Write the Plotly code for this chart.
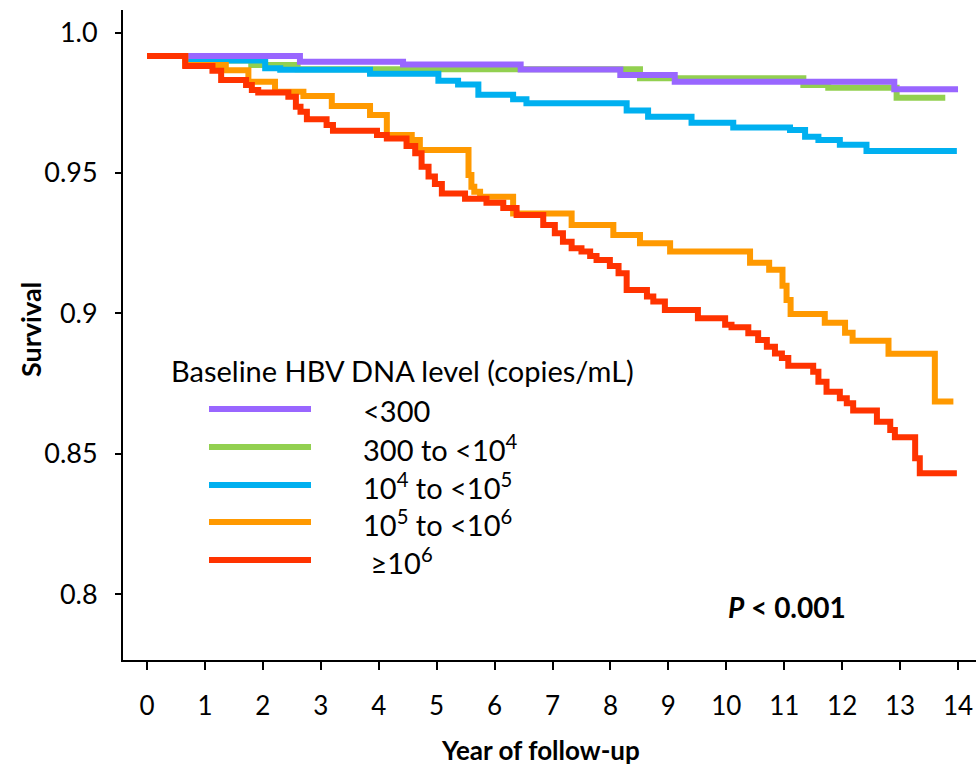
import plotly.graph_objects as go

# ---- data ----
groups = ["<300", "300 to <10^4", "10^4 to <10^5", "10^5 to <10^6", ">=10^6"]
legend_labels = ["&lt;300", "300 to &lt;10<sup>4</sup>", "10<sup>4</sup> to &lt;10<sup>5</sup>",
                 "10<sup>5</sup> to &lt;10<sup>6</sup>", " ≥10<sup>6</sup>"]
colors = ["#9966FF", "#92D050", "#00B0F0", "#FF9900", "#FF3300"]

t_purple = [0, 2.64, 4.42, 6.45, 8.17, 9.11, 12.9, 14.0]
s_purple = [0.9916, 0.9896, 0.9886, 0.9868, 0.9849, 0.9825, 0.9798, 0.9798]

t_green = [0, 0.66, 1.8, 2.6, 8.51, 11.33, 11.76, 12.94, 13.78]
s_green = [0.9916, 0.9900, 0.9884, 0.9869, 0.9837, 0.9813, 0.9803, 0.9768, 0.9768]

t_blue = [0, 0.68, 2.04, 2.3, 3.85, 5.03, 5.37, 5.72, 6.32, 6.55, 8.28, 8.65, 9.40,
          10.12, 11.10, 11.36, 11.59, 11.96, 12.42, 13.98]
s_blue = [0.9916, 0.9900, 0.9873, 0.9867, 0.9853, 0.9828, 0.9815, 0.9778, 0.9762, 0.9748,
          0.9722, 0.9700, 0.9679, 0.9662, 0.9653, 0.9629, 0.9617, 0.9600, 0.9578, 0.9578]

t_orange = [0, 0.66, 1.36, 1.75, 2.21, 2.70, 3.19, 3.85, 4.14, 4.57, 4.71, 5.55, 5.60, 5.65,
            5.75, 6.32, 7.33, 8.05, 8.51, 9.03, 10.41, 10.74, 10.97, 11.04, 11.11, 11.70,
            12.05, 12.18, 12.80, 13.60, 13.92]
s_orange = [0.9916, 0.9884, 0.9866, 0.9825, 0.9789, 0.9774, 0.9738, 0.9706, 0.9635, 0.9617,
            0.9582, 0.9493, 0.9451, 0.9433, 0.9415, 0.9356, 0.9315, 0.9279, 0.9250, 0.9220,
            0.9180, 0.9155, 0.9098, 0.9048, 0.8998, 0.8967, 0.8931, 0.8903, 0.8856, 0.8686,
            0.8686]

t_red = [0, 0.66, 1.13, 1.28, 1.71, 1.81, 1.92, 2.44, 2.57, 2.65, 2.76, 3.10, 3.21, 3.97,
         4.14, 4.48, 4.63, 4.74, 4.86, 4.97, 5.09, 5.49, 5.86, 6.15, 6.38, 6.84, 7.04, 7.18,
         7.33, 7.50, 7.65, 7.76, 7.99, 8.14, 8.28, 8.63, 8.74, 8.94, 9.51, 9.98, 10.09, 10.38,
         10.55, 10.70, 10.84, 10.96, 11.07, 11.50, 11.59, 11.73, 11.96, 12.08, 12.19, 12.60,
         12.83, 12.91, 13.26, 13.34, 13.98]
s_red = [0.9916, 0.9881, 0.9864, 0.9831, 0.9813, 0.9795, 0.9786, 0.9771, 0.9736, 0.9718,
         0.9691, 0.9671, 0.9650, 0.9635, 0.9623, 0.9596, 0.9570, 0.9522, 0.9487, 0.9461,
         0.9427, 0.9408, 0.9394, 0.9375, 0.9350, 0.9315, 0.9285, 0.9255, 0.9232, 0.9220,
         0.9204, 0.9190, 0.9169, 0.9143, 0.9083, 0.9060, 0.9042, 0.9012, 0.8983, 0.8960,
         0.8951, 0.8929, 0.8905, 0.8881, 0.8857, 0.8841, 0.8814, 0.8792, 0.8757, 0.8721,
         0.8698, 0.8680, 0.8654, 0.8614, 0.8585, 0.8559, 0.8484, 0.8431, 0.8431]

x_ticks = list(range(0, 15))
y_ticks = [0.8, 0.85, 0.9, 0.95, 1.0]
y_tick_text = ["0.8", "0.85", "0.9", "0.95", "1.0"]

legend_title = "Baseline HBV DNA level (copies/mL)"
p_text = "<b><i>P</i> &lt; 0.001</b>"

series = {
    "<300": (t_purple, s_purple),
    "300 to <10^4": (t_green, s_green),
    "10^4 to <10^5": (t_blue, s_blue),
    "10^5 to <10^6": (t_orange, s_orange),
    ">=10^6": (t_red, s_red),
}
draw_order = ["300 to <10^4", "10^4 to <10^5", "<300", "10^5 to <10^6", ">=10^6"]

FONT = "Lato"
W, H = 976, 765
ML, MR, MT, MB = 123, 0, 10, 105
PW, PH = W - ML - MR, H - MT - MB


def px(xp):
    return (xp - ML) / PW


def py(yp):
    return (H - MB - yp) / PH


fig = go.Figure()
for g in draw_order:
    i = groups.index(g)
    t, s = series[g]
    fig.add_trace(go.Scatter(x=t, y=s, mode="lines", line=dict(color=colors[i], width=6, shape="hv"),
                             name=g, showlegend=False, hoverinfo="skip"))

# manual legend
leg_y = [409, 447, 485, 522, 560]
for i, lab in enumerate(legend_labels):
    fig.add_shape(type="line", xref="paper", yref="paper", x0=px(209), x1=px(311),
                  y0=py(leg_y[i]), y1=py(leg_y[i]), line=dict(color=colors[i], width=6))
    fig.add_annotation(xref="paper", yref="paper", x=px(361), y=py(leg_y[i] + 1), text=lab,
                       showarrow=False, xanchor="left", yanchor="middle",
                       font=dict(family=FONT, size=29, color="black"))
fig.add_annotation(xref="paper", yref="paper", x=px(169), y=py(370), text=legend_title,
                   showarrow=False, xanchor="left", yanchor="middle",
                   font=dict(family=FONT, size=29, color="black"))
fig.add_annotation(xref="paper", yref="paper", x=px(726), y=py(607), text=p_text,
                   showarrow=False, xanchor="left", yanchor="middle",
                   font=dict(family=FONT, size=28, color="black"))
fig.add_annotation(xref="paper", yref="paper", x=px(30), y=py(330), text="<b>Survival</b>",
                   showarrow=False, textangle=-90, xanchor="center", yanchor="middle",
                   font=dict(family=FONT, size=27, color="black"))
fig.add_annotation(xref="paper", yref="paper", x=px(540), y=py(750), text="<b>Year of follow-up</b>",
                   showarrow=False, xanchor="center", yanchor="middle",
                   font=dict(family=FONT, size=26, color="black"))

x0 = -24 / 57.93
fig.update_layout(
    width=W, height=H, margin=dict(l=ML, r=MR, t=MT, b=MB),
    paper_bgcolor="white", plot_bgcolor="white",
    font=dict(family=FONT, color="black"),
    xaxis=dict(range=[x0, x0 + PW / 57.93], tickmode="array", tickvals=x_ticks,
               ticktext=[str(v) for v in x_ticks], showgrid=False, zeroline=False,
               showline=True, linecolor="black", linewidth=2, ticks="outside", ticklen=8,
               tickwidth=2, tickcolor="black", tickfont=dict(family=FONT, size=26),
               ticklabelstandoff=14),
    yaxis=dict(range=[1.0 - (H - MB - 32.5) / 2809, 1.0 + (32.5 - MT) / 2809], tickmode="array",
               tickvals=y_ticks, ticktext=y_tick_text, showgrid=False, zeroline=False,
               showline=True, linecolor="black", linewidth=2, ticks="outside", ticklen=6,
               tickwidth=2, tickcolor="black", tickfont=dict(family=FONT, size=27),
               ticklabelstandoff=12),
)

fig.write_html("out.html")
